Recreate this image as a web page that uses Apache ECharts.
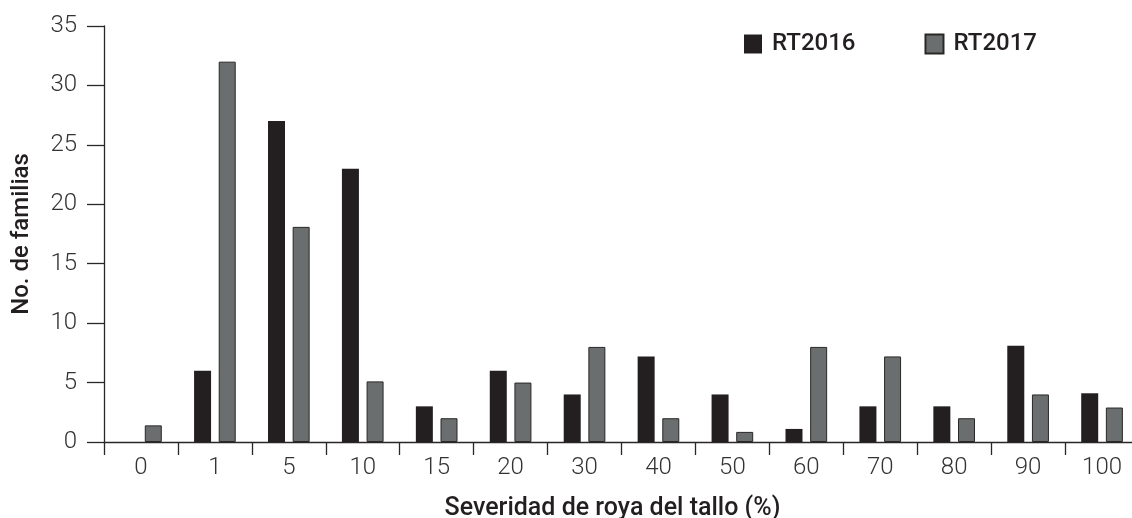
<!DOCTYPE html>
<html>
<head>
<meta charset="utf-8">
<script src="https://cdn.jsdelivr.net/npm/echarts@6/dist/echarts.min.js"></script>
<style>
html,body{margin:0;padding:0;background:#fff;}
#chart{width:1132px;height:518px;}
</style>
</head>
<body>
<div id="chart"></div>
<script>
const categories = ['0','1','5','10','15','20','30','40','50','60','70','80','90','100'];
const rt2016 = [0, 6, 27, 23, 3, 6, 4, 7.2, 4, 1.1, 3, 3, 8.1, 4.1];
const rt2017 = [1.4, 32, 18.1, 5.1, 2, 5, 8, 2, 0.85, 8, 7.2, 2, 4, 2.9];
const yTicks = [0, 5, 10, 15, 20, 25, 30, 35];
const seriesNames = ['RT2016', 'RT2017'];

const chart = echarts.init(document.getElementById('chart'));
const axisColor = '#2a2727';
chart.setOption({
  animation: false,
  grid: { left: 104, top: 26, width: 1035, bottom: 76, containLabel: false, outerBoundsMode: 'none' },
  legend: {
    data: seriesNames,
    left: 744, top: 32, padding: 0,
    icon: 'rect', itemWidth: 18, itemHeight: 19, itemGap: 69,
    textStyle: { fontFamily: 'Roboto', fontSize: 24, fontWeight: 500, color: '#231f20', padding: [0,0,0,5] }
  },
  xAxis: {
    type: 'category',
    data: categories,
    name: 'Severidad de roya del tallo (%)',
    nameLocation: 'middle',
    nameGap: 54,
    nameTextStyle: { fontFamily: 'Roboto', fontSize: 25, fontWeight: 500, color: '#231f20', padding: [0, 18, 0, 0] },
    axisLine: { lineStyle: { color: axisColor, width: 1.3 } },
    axisTick: { show: true, length: 13, lineStyle: { color: axisColor, width: 1.3 } },
    axisLabel: { fontFamily: 'Roboto', fontSize: 24, fontWeight: 300, color: '#333', margin: 14 }
  },
  yAxis: {
    type: 'value',
    min: yTicks[0], max: yTicks[yTicks.length - 1], interval: 5,
    name: 'No. de familias',
    nameLocation: 'middle',
    nameGap: 70,
    nameTextStyle: { fontFamily: 'Roboto', fontSize: 24, fontWeight: 500, color: '#231f20' },
    splitLine: { show: false },
    axisLine: { show: true, lineStyle: { color: axisColor, width: 1.3 } },
    axisTick: { show: true, length: 17, lineStyle: { color: axisColor, width: 1.3 } },
    axisLabel: { fontFamily: 'Roboto', fontSize: 24, fontWeight: 300, color: '#333', margin: 27 }
  },
  series: [
    {
      name: seriesNames[0], type: 'bar', data: rt2016,
      barWidth: 17, barGap: '45%',
      itemStyle: { color: '#231f20' }
    },
    {
      name: seriesNames[1], type: 'bar', data: rt2017,
      barWidth: 17,
      itemStyle: { color: '#6b6e6e', borderColor: '#2a2727', borderWidth: 1 }
    }
  ]
});
</script>
</body>
</html>
